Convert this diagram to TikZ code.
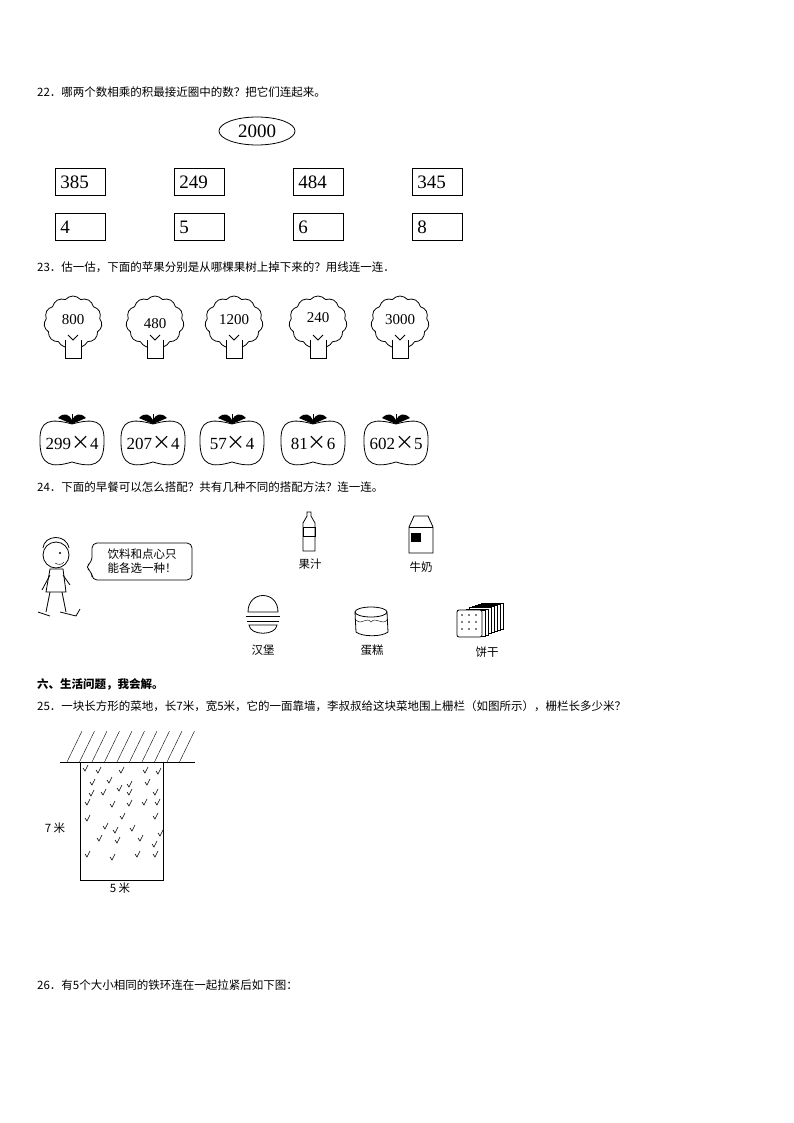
\documentclass[tikz,border=0pt]{standalone}
\usepackage{fontspec}
\setmainfont{Liberation Serif}
\newfontfamily\cjk{Noto Sans CJK SC}
\usetikzlibrary{shapes.symbols,shapes.geometric}
\newcommand{\mytimes}{{\cjk\fontsize{19}{20}\selectfont ×}}
\begin{document}
\begin{tikzpicture}[x=1pt,y=-1pt,
 q/.style={anchor=west,font=\cjk\fontsize{11.5}{13}\selectfont,inner sep=0},
 numbox/.style={draw,thick,minimum width=49pt,minimum height=27pt,anchor=north west,text width=40pt,inner xsep=5pt,inner ysep=2pt,align=left,font=\fontsize{19}{20}\selectfont},
 lab/.style={font=\cjk\fontsize{11.5}{14}\selectfont,inner sep=0},
 thin/.style={line width=0.6pt}]
\useasboundingbox (0,0) rectangle (794,1123);
\node[q] (q22) at (37,92) {22．哪两个数相乘的积最接近圈中的数？把它们连起来。};
\node[draw,ellipse,thick,minimum width=76pt,minimum height=28pt,font=\fontsize{19}{20}\selectfont] (e) at (257,131) {2000};
\foreach \x/\a/\b [count=\i] in {55/385/4,174/249/5,293/484/6,412/345/8}{
 \node[numbox] (t\i) at (\x,168) {\a};
 \node[numbox] (b\i) at (\x,213) {\b};
}
\node[q] (q23) at (37,267) {23．估一估，下面的苹果分别是从哪棵果树上掉下来的？用线连一连．};
\foreach \x/\n/\ny [count=\i] in {73/800/320,155/480/324,234/1200/320,318/240/318,400/3000/320}{
 \node[cloud,draw,thick,cloud puffs=11,cloud puff arc=100,minimum width=58pt,minimum height=52pt,aspect=1.1] (tr\i) at (\x,322) {};
 \draw[thick,fill=white] (\x-8,340) -- (\x-8,358) -- (\x+8,358) -- (\x+8,340);
 \draw[thick] (\x-5,335) -- (\x,340) -- (\x+5,335);
 \node[font=\fontsize{15}{16}\selectfont,inner sep=0] (tn\i) at (\x,\ny) {\n};
}
\foreach \x/\t [count=\i] in {72/{299\mytimes 4},153/{207\mytimes 4},232/{57\mytimes 4},313/{81\mytimes 6},396/{602\mytimes 5}}{
 \draw[thick] (\x-32,442) .. controls (\x-33,420) and (\x-22,418) .. (\x,424) .. controls (\x+22,418) and (\x+33,420) .. (\x+32,442) .. controls (\x+32,466) and (\x+20,468) .. (\x,462) .. controls (\x-20,468) and (\x-32,466) .. (\x-32,442) -- cycle;
 \fill (\x,424) -- (\x-14,418) .. controls (\x-8,412) and (\x-3,414) .. (\x,420) .. controls (\x+3,414) and (\x+8,412) .. (\x+14,418) -- cycle;
 \draw[thick] (\x,424) -- (\x,414);
 \node[font=\fontsize{17}{18}\selectfont,inner sep=0] (ap\i) at (\x,443) {\t};
}
\node[q] (q24) at (37,487) {24．下面的早餐可以怎么搭配？共有几种不同的搭配方法？连一连。};
% boy
\draw[thick,fill=white] (56,555) circle (13);
\draw[thick] (43,548) .. controls (44,535) and (66,533) .. (69,548);
\fill (60,553) circle (1.2);
\draw (55,563) .. controls (58,565) and (62,565) .. (64,562);
\draw[thick] (50,569) -- (46,592) -- (66,592) -- (63,569) -- cycle;
\draw[thick] (50,592) -- (46,612) (62,592) -- (66,612);
\draw[thick] (38,612) -- (50,616) (60,612) -- (76,616) -- (80,609);
\draw[thick] (50,575) -- (42,590) (63,575) -- (70,585);
% bubble
\draw[thick,rounded corners=5] (85,567) -- (92,562) -- (92,543) -- (192,543) -- (192,580) -- (92,580) -- (92,572) -- cycle;
\node[lab,align=left] (bub) at (142,561) {饮料和点心只\\能各选一种！};
% bottle
\draw[thick] (303,523) -- (303,551) -- (315,551) -- (315,523) -- (311,516) -- (311,512) -- (307,512) -- (307,516) -- cycle;
\draw (303,527) rectangle (315,536);
\node[lab] (gz) at (310,564) {果汁};
% milk
\draw[thick] (409,527) -- (409,553) -- (433,553) -- (433,527) -- (428,516) -- (414,516) -- cycle;
\draw (409,527) -- (433,527);
\fill (411,533) rectangle (421,542);
\node[lab] (nn) at (421,567) {牛奶};
% burger
\draw[thick] (248,612) .. controls (248,590) and (278,590) .. (278,612) -- cycle;
\draw[thick] (246,616) -- (280,616) (247,621) -- (279,621);
\draw[thick] (249,625) .. controls (250,636) and (276,636) .. (277,625) -- cycle;
\node[lab] (hb) at (263,650) {汉堡};
% cake
\draw[thick] (371,612) ellipse (16 and 5);
\draw[thick] (355,612) -- (356,632) .. controls (362,637) and (382,637) .. (388,632) -- (387,612);
\draw (356,620) .. controls (362,626) and (366,616) .. (371,622) .. controls (376,616) and (382,626) .. (387,620);
\node[lab] (dg) at (372,650) {蛋糕};
% cracker
\foreach \k in {6,5,...,0}{\draw[fill=white] (463+3*\k,610-1.2*\k) rectangle (485+3*\k,636-1.2*\k);}
\draw[thick,fill=white,rounded corners=2] (457,610) rectangle (482,637);
\foreach \u in {0,1,2}\foreach \v in {0,1,2}{\fill (462+7*\u,615+7*\v) circle (0.9);}
\node[lab] (bg) at (487,652) {饼干};
\node[q,font=\cjk\bfseries\fontsize{11.5}{13}\selectfont] (s6) at (37,684) {六、生活问题，我会解。};
\node[q] (q25) at (37,706) {25．一块长方形的菜地，长7米，宽5米，它的一面靠墙，李叔叔给这块菜地围上栅栏（如图所示），栅栏长多少米？};
% garden
\draw[thick] (60,762) -- (195,762);
\foreach \k in {0,...,9}{\draw (67+12.5*\k,762) -- (82+12.5*\k,731);}
\draw[thick] (80,762) rectangle (163,880);
\foreach \px/\py in {83/768,96/770,119/770,143/770,156/771,90/782,107/780,127/784,145/782,89/793,101/792,117/788,127/792,153/792,85/802,110/804,127/803,142/802,155/802,85/818,120/816,153/816,103/826,113/830,130/828,97/838,115/840,138/838,158/833,85/854,110/857,135/854,153/854,152/844}{
 \draw[thin] (\px,\py) -- (\px+2,\py+3) -- (\px+5,\py-3);
}
\node[lab] (l7) at (55,828) {7 米};
\node[lab] (l5) at (120,888) {5 米};
\node[q] (q26) at (37,985) {26．有5个大小相同的铁环连在一起拉紧后如下图：};
\end{tikzpicture}
\end{document}
